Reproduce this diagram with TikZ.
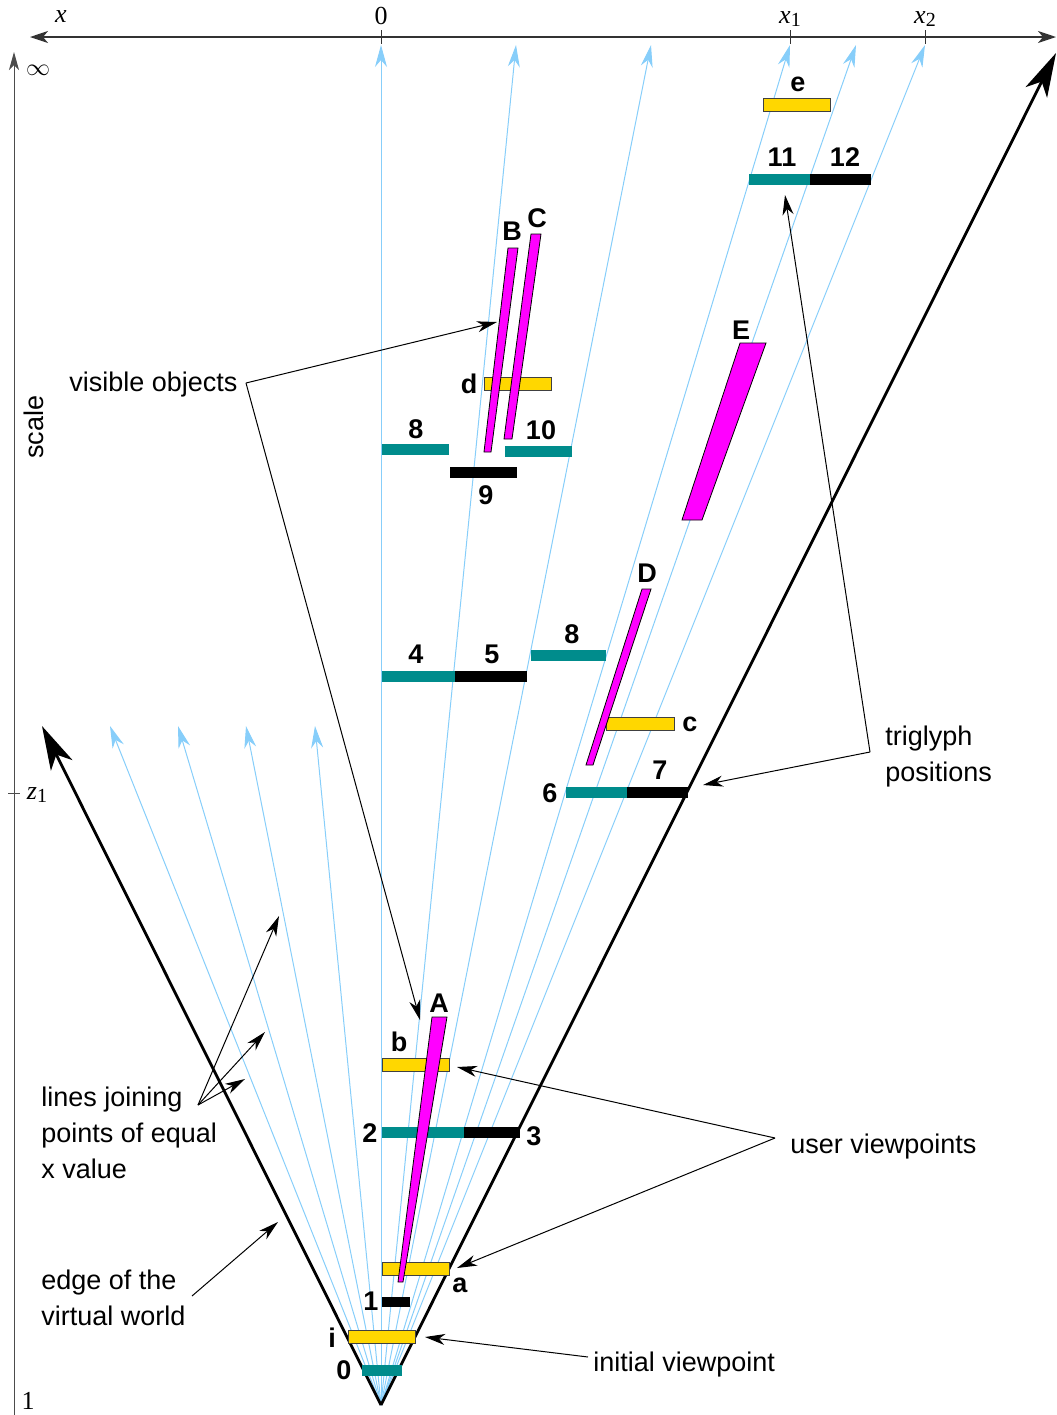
\documentclass[tikz,border=0pt]{standalone}
\usepackage{fontspec}
\setmainfont{Liberation Sans}
\newfontfamily\axisfont{Liberation Serif}
\definecolor{TriTeal}{RGB}{0, 140, 140}
\definecolor{ViewGold}{RGB}{255, 215, 0}
\definecolor{ObjMagenta}{RGB}{255, 0, 255}
\definecolor{RayBlue}{RGB}{135, 206, 250}
\usetikzlibrary{arrows.meta}

\begin{document}
\begin{tikzpicture}[
    x=0.5pt, y=-0.5pt,
    every node/.style={font=\fontsize{13.5}{18}\selectfont, inner sep=0pt},
    lbl/.style={font=\fontsize{13.5}{18}\selectfont\bfseries},
    note/.style={align=left, anchor=base west},
    axlbl/.style={font=\fontsize{13}{15}\selectfont\axisfont},
    ray/.style={RayBlue, line width=0.5pt, -{Stealth[length=11pt, width=6pt, inset=3.5pt]}},
    worldedge/.style={line width=1.4pt, -{Stealth[length=22pt, width=12pt, inset=6pt]}},
    pointer/.style={line width=0.5pt, -{Stealth[length=10pt, width=5.5pt, inset=3pt]}},
    trig/.style={fill=TriTeal},
    trigdark/.style={fill=black},
    viewbar/.style={fill=ViewGold, draw=black!75, line width=0.4pt},
    object/.style={fill=ObjMagenta, draw=black, line width=0.4pt}
]
\useasboundingbox (0,0) rectangle (1056,1415);

% axes
\draw[black!80, line width=0.9pt, {Stealth[length=9pt, width=6pt, inset=2.5pt]}-{Stealth[length=9pt, width=6pt, inset=2.5pt]}] (30,37) -- (1056,37);
\foreach \tx in {381, 790, 925} \draw[black!80, line width=0.5pt] (\tx,30) -- (\tx,44);
\node[axlbl, font=\fontsize{13}{15}\selectfont\axisfont\itshape] (lx) at (61,17) {x};
\node[axlbl] (l0) at (381,16) {0};
\node[axlbl] (lx1) at (790,19) {\textit{x}\raisebox{-0.3ex}{\fontsize{10}{10}\selectfont 1}};
\node[axlbl] (lx2) at (925,19) {\textit{x}\raisebox{-0.3ex}{\fontsize{10}{10}\selectfont 2}};
\draw[black!70, line width=0.5pt, -{Stealth[length=9pt, width=5pt, inset=2.5pt]}] (14,1415) -- (14,52);
\draw[black!70, line width=0.5pt] (8,793) -- (20,793);
\node[axlbl] (linf) at (38,70) {$\infty$};
\node[axlbl] (lz1) at (37,795) {\textit{z}\raisebox{-0.3ex}{\fontsize{10}{10}\selectfont 1}};
\node[axlbl] (lone) at (28,1401) {1};
\node[rotate=90] (lscale) at (34,427) {scale};

% rays of equal x
\coordinate (apex) at (381,1405);
\foreach \rx/\ry in {381/45, 516/45, 651/45, 790/45, 856/45, 925/45,
                     315/726, 246/726, 178/726, 110/726}
    \draw[ray] (apex) -- (\rx,\ry);

% edges of the virtual world
\coordinate (leftend) at (42,726);
\coordinate (rightend) at (1056,53);
\draw[worldedge] (apex) -- (leftend);
\draw[worldedge] (apex) -- (rightend);

% triglyph positions
\fill[trig] (362,1365) rectangle (402,1376);
\fill[trigdark] (382,1297) rectangle (410,1307);
\fill[trig] (382,1127) rectangle (464,1138);
\fill[trigdark] (464,1127) rectangle (520,1138);
\fill[trig] (382,671) rectangle (455,682);
\fill[trigdark] (455,671) rectangle (527,682);
\fill[trig] (531,650) rectangle (606,661);
\fill[trig] (566,787) rectangle (627,798);
\fill[trigdark] (627,787) rectangle (688,798);
\fill[trig] (382,444) rectangle (449,455);
\fill[trigdark] (450,467) rectangle (517,478);
\fill[trig] (505,446) rectangle (572,457);
\fill[trig] (749,174) rectangle (810,185);
\fill[trigdark] (810,174) rectangle (871,185);

% viewpoints
\filldraw[viewbar] (348,1330) rectangle (415,1343);
\filldraw[viewbar] (382,1262) rectangle (449,1275);
\filldraw[viewbar] (382,1058) rectangle (449,1071);
\filldraw[viewbar] (606,717) rectangle (674,730);
\filldraw[viewbar] (484,377) rectangle (551,390);
\filldraw[viewbar] (763,98) rectangle (830,111);

% visible objects
\filldraw[object] (432,1017) -- (447,1017) -- (403,1282) -- (398,1282) -- cycle;
\filldraw[object] (508,248) -- (518,248) -- (491,452) -- (484,452) -- cycle;
\filldraw[object] (531,234) -- (541,234) -- (512,439) -- (504,439) -- cycle;
\filldraw[object] (642,589) -- (651,589) -- (593,765) -- (586,765) -- cycle;
\filldraw[object] (740,343) -- (766,343) -- (702,520) -- (682,520) -- cycle;

% labels
\node[lbl] (t0) at (344,1370) {0};
\node[lbl] (vi) at (332,1338) {i};
\node[lbl] (t1) at (371,1301) {1};
\node[lbl] (va) at (460,1285) {a};
\node[lbl] (oA) at (439,1003) {A};
\node[lbl] (vb) at (399,1042) {b};
\node[lbl] (t2) at (370,1133) {2};
\node[lbl] (t3) at (534,1136) {3};
\node[lbl] (t4) at (416,654) {4};
\node[lbl] (t5) at (492,654) {5};
\node[lbl] (t8b) at (572,634) {8};
\node[lbl] (t6) at (550,793) {6};
\node[lbl] (t7) at (660,770) {7};
\node[lbl] (vc) at (690,724) {c};
\node[lbl] (oD) at (647,573) {D};
\node[lbl] (oE) at (741,330) {E};
\node[lbl] (t8a) at (416,429) {8};
\node[lbl] (t9) at (486,495) {9};
\node[lbl] (t10) at (541,430) {10};
\node[lbl] (vd) at (469,384) {d};
\node[lbl] (oB) at (512,231) {B};
\node[lbl] (oC) at (537,218) {C};
\node[lbl] (ve) at (798,84) {e};
\node[lbl] (t11) at (782,157) {11};
\node[lbl] (t12) at (845,157) {12};

% annotations
\node[note] (visnote) at (69,391) {visible objects};
\node[note] (trignote) at (885,781) {triglyph\\positions};
\node[note] (usernote) at (790,1153) {user viewpoints};
\node[note] (initnote) at (593,1371) {initial viewpoint};
\node[note] (edgenote) at (41,1325) {edge of the\\virtual world};
\node[note] (linesnote) at (41,1178) {lines joining\\points of equal\\x value};

\coordinate (visfork) at (246,383);
\coordinate (trigfork) at (870,752);
\coordinate (userfork) at (775,1138);
\coordinate (initfork) at (588,1357);
\coordinate (edgefork) at (192,1296);
\coordinate (linesfork) at (198,1105);

\draw[pointer] (visfork) -- (497,322);
\draw[pointer] (visfork) -- (420,1020);
\draw[pointer] (trigfork) -- (785,195);
\draw[pointer] (trigfork) -- (703,785);
\draw[pointer] (userfork) -- (457,1067);
\draw[pointer] (userfork) -- (457,1268);
\draw[pointer] (initfork) -- (425,1337);
\draw[pointer] (edgefork) -- (278,1222);
\draw[pointer] (linesfork) -- (279,916);
\draw[pointer] (linesfork) -- (265,1032);
\draw[pointer] (linesfork) -- (245,1079);
\end{tikzpicture}
\end{document}
